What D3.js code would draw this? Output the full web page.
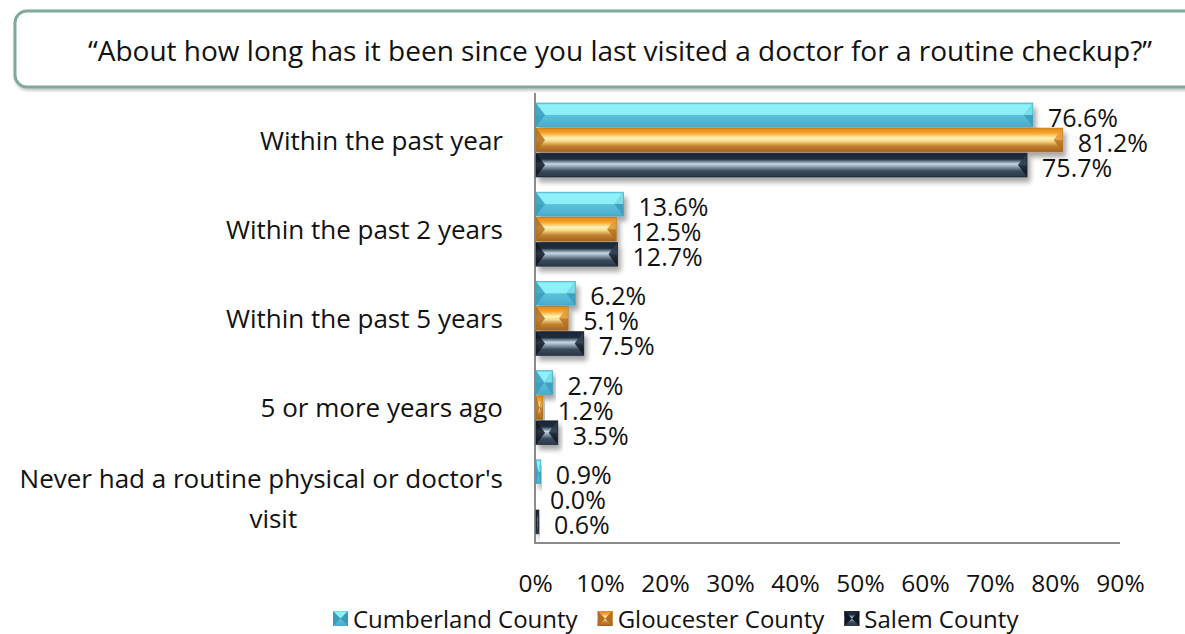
<!DOCTYPE html>
<html>
<head>
<meta charset="utf-8">
<script src="https://cdn.jsdelivr.net/npm/d3@7"></script>
<style>
  body { margin: 0; background: #fff; }
  svg { display: block; font-family: "Open Sans", "Noto Sans", sans-serif; }
</style>
</head>
<body>
<div id="chart"></div>
<script>
var categories = ["Within the past year", "Within the past 2 years", "Within the past 5 years",
  "5 or more years ago", "Never had a routine physical or doctor's visit"]
var seriesNames = ["Cumberland County", "Gloucester County", "Salem County"]
var cumberland = [76.6, 13.6, 6.2, 2.7, 0.9]
var gloucester = [81.2, 12.5, 5.1, 1.2, 0.0]
var salem = [75.7, 12.7, 7.5, 3.5, 0.6]
var tickValues = [0, 10, 20, 30, 40, 50, 60, 70, 80, 90]
var title = "\u201cAbout how long has it been since you last visited a doctor for a routine checkup?\u201d"

var W = 1185, H = 634
var margin = {top: 97, left: 535, right: 65, bottom: 91}

// colour stops per series: top, mid highlight, bottom, side facet
var looks = [
  {stops: [["0%", "#5fc8df"], ["8%", "#8ef2fa"], ["48%", "#8eeef8"], ["52%", "#5cc0da"], ["100%", "#4aaccb"]], side: "#3a9cbc", sideHi: "#8ff3f8"},
  {stops: [["0%", "#e08a14"], ["20%", "#f6a12a"], ["42%", "#fff3b8"], ["55%", "#f7d98a"], ["75%", "#c4812e"], ["100%", "#9e6422"]], side: "#b06e1e", sideHi: "#f7b040"},
  {stops: [["0%", "#1a2636"], ["25%", "#1e2e40"], ["45%", "#c6d8e8"], ["58%", "#8a9cae"], ["75%", "#3a4a5a"], ["100%", "#2a3848"]], side: "#0f1824", sideHi: "#3c4c5c"}
]

var svg = d3.select("#chart").append("svg").attr("width", W).attr("height", H)
var defs = svg.append("defs")

var f = defs.append("filter").attr("id", "shadow").attr("x", "-10%").attr("y", "-30%").attr("width", "130%").attr("height", "180%")
f.append("feDropShadow").attr("dx", 3).attr("dy", 5).attr("stdDeviation", 2.5)
  .attr("flood-color", "#000").attr("flood-opacity", 0.35)

looks.forEach(function(l, i){
  var g = defs.append("linearGradient").attr("id", "grad" + i)
    .attr("x1", 0).attr("y1", 0).attr("x2", 0).attr("y2", 1)
  l.stops.forEach(function(s){
    g.append("stop").attr("offset", s[0]).attr("stop-color", s[1])
  })
})

// title box
var tf = defs.append("filter").attr("id", "boxshadow")
tf.append("feDropShadow").attr("dx", 1).attr("dy", 2).attr("stdDeviation", 1.5)
  .attr("flood-color", "#000").attr("flood-opacity", 0.25)
svg.append("rect")
  .attr("x", 15).attr("y", 11).attr("width", 1200).attr("height", 76)
  .attr("rx", 12).attr("ry", 12)
  .attr("fill", "#fff").attr("stroke", "#7fa99a").attr("stroke-width", 3)
  .attr("filter", "url(#boxshadow)")
svg.append("text")
  .attr("x", 620).attr("y", 50)
  .attr("text-anchor", "middle").attr("dominant-baseline", "central")
  .attr("font-size", 28).attr("fill", "#111")
  .text(title)

var x = d3.scaleLinear().domain([0, 90]).range([margin.left, W - margin.right])
var y = d3.scaleBand().domain(categories).range([margin.top, H - margin.bottom])
var yInner = d3.scaleBand().domain([0, 1, 2]).range([6, 80]).paddingInner(0.05)

var values = [cumberland, gloucester, salem]

// axis frame
svg.append("line").attr("x1", x(0)).attr("x2", x(0)).attr("y1", margin.top - 4).attr("y2", H - margin.bottom)
  .attr("stroke", "#8c8c8c").attr("stroke-width", 2)
svg.append("line").attr("x1", x(0) - 1).attr("x2", x(90)).attr("y1", H - margin.bottom).attr("y2", H - margin.bottom)
  .attr("stroke", "#8c8c8c").attr("stroke-width", 2)

// tick labels
var xAxis = d3.axisBottom(x).tickValues(tickValues).tickSize(0).tickPadding(0)
  .tickFormat(function(d){ return d + "%" })
var ax = svg.append("g").attr("transform", "translate(0,583)").call(xAxis)
ax.select(".domain").remove()
ax.selectAll("text").attr("font-size", 24.5).attr("fill", "#111")
  .attr("font-family", "\"Open Sans\", sans-serif").attr("dy", "0.35em").attr("y", 0)

function bevelBar(g, x0, y0, w, h, i){
  var l = looks[i]
  var b = Math.min(9, h / 2, w / 2)
  var grp = g.append("g").attr("filter", "url(#shadow)")
  grp.append("rect").attr("x", x0).attr("y", y0).attr("width", w).attr("height", h)
    .attr("fill", "url(#grad" + i + ")")
  if (w > 2) {
    grp.append("path")
      .attr("d", "M" + x0 + "," + y0 + "L" + (x0 + b) + "," + (y0 + h / 2) + "L" + x0 + "," + (y0 + h) + "Z")
      .attr("fill", l.side).attr("opacity", 0.85)
    grp.append("path")
      .attr("d", "M" + (x0 + w) + "," + y0 + "L" + (x0 + w - b) + "," + (y0 + h / 2) + "L" + (x0 + w) + "," + (y0 + h) + "Z")
      .attr("fill", l.side).attr("opacity", 0.85)
    grp.append("path")
      .attr("d", "M" + (x0 + w) + "," + y0 + "L" + (x0 + w - b) + "," + (y0 + h / 2) + "L" + (x0 + w) + "," + (y0 + h / 2) + "Z")
      .attr("fill", l.sideHi).attr("opacity", 0.7)
  }
  grp.append("rect").attr("x", x0).attr("y", y0).attr("width", w).attr("height", h)
    .attr("fill", "none").attr("stroke", l.side).attr("stroke-width", 0.8).attr("stroke-opacity", 0.7)
}

var bars = svg.append("g")
categories.forEach(function(c, ci){
  values.forEach(function(vals, si){
    var v = vals[ci]
    var y0 = y(c) + yInner(si)
    var h = yInner.bandwidth()
    var w = x(v) - x(0)
    if (w > 0) bevelBar(bars, x(0) + 1, y0, Math.max(w - 1, 1.5), h, si)
    svg.append("text")
      .attr("x", x(v) + 15).attr("y", y0 + h / 2 + 2)
      .attr("dominant-baseline", "central")
      .attr("font-size", 25).attr("fill", "#111")
      .text(v.toFixed(1) + "%")
  })
})

// category labels
var labelX = 503
var lines = {"Never had a routine physical or doctor's visit": ["Never had a routine physical or doctor's", "visit"]}
categories.forEach(function(c){
  var cy = y(c) + y.bandwidth() / 2
  if (lines[c]) {
    var t = svg.append("text").attr("font-size", 26).attr("fill", "#111").attr("text-anchor", "middle")
    var ls = lines[c]
    var tmp = svg.append("text").attr("font-size", 26).text(ls[0])
    var wid = tmp.node().getComputedTextLength()
    tmp.remove()
    ls.forEach(function(s, k){
      t.append("tspan").attr("x", labelX - wid / 2 + (k ? 12 : 0)).attr("y", cy + (k - 0.5) * 40)
        .attr("dominant-baseline", "central").text(s)
    })
  } else {
    svg.append("text").attr("x", labelX).attr("y", cy - 2)
      .attr("text-anchor", "end").attr("dominant-baseline", "central")
      .attr("font-size", 26).attr("fill", "#111").text(c)
  }
})

// legend
var leg = svg.append("g")
var lx = 333
var ly = 611
seriesNames.forEach(function(n, i){
  var s = 15
  var gi = leg.append("g")
  gi.append("rect").attr("x", lx).attr("y", ly).attr("width", s).attr("height", s).attr("fill", "url(#grad" + i + ")")
  gi.append("path").attr("d", "M" + lx + "," + ly + "L" + (lx + s / 2) + "," + (ly + s / 2) + "L" + lx + "," + (ly + s) + "Z").attr("fill", looks[i].side)
  gi.append("path").attr("d", "M" + (lx + s) + "," + ly + "L" + (lx + s / 2) + "," + (ly + s / 2) + "L" + (lx + s) + "," + (ly + s) + "Z").attr("fill", looks[i].side)
  var t = gi.append("text").attr("x", lx + s + 5).attr("y", ly + s / 2).attr("dominant-baseline", "central")
    .attr("font-size", 24).attr("fill", "#111").text(n)
  lx += s + 5 + t.node().getComputedTextLength() + 20
})
</script>
</body>
</html>
